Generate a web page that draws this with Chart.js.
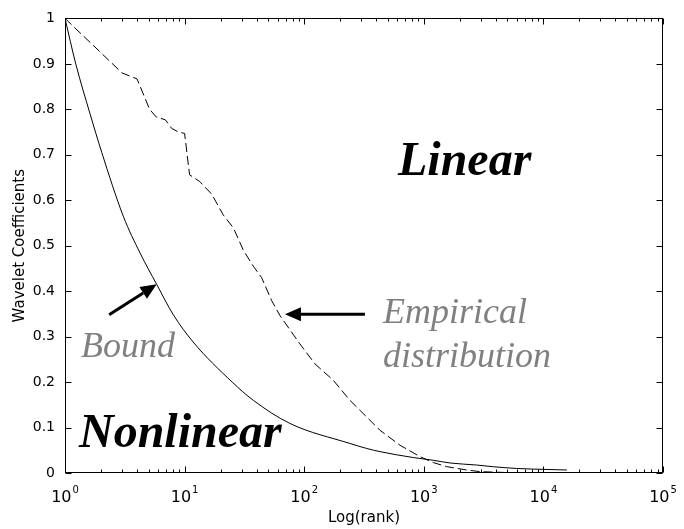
<!DOCTYPE html>
<html><head><meta charset="utf-8">
<script src="https://cdn.jsdelivr.net/npm/chart.js@4.4.0/dist/chart.umd.min.js"></script>
<style>html,body{margin:0;padding:0;background:#fff}canvas{display:block}</style>
</head><body>
<canvas id="c" width="684" height="529"></canvas>
<script>
// ---- data ----
const boundRank = [1, 1.23, 1.62, 2.03, 3.07, 4.24, 5.84, 8.05, 11.8, 25, 37.5, 76, 241, 333, 430, 817, 1200, 1660, 2770, 3810, 5980, 10000, 15700];
const boundCoef = [1, 0.9, 0.79, 0.705, 0.565, 0.484, 0.415, 0.348, 0.288, 0.2, 0.16, 0.109, 0.065, 0.054, 0.047, 0.034, 0.028, 0.022, 0.0175, 0.0138, 0.010, 0.008, 0.0066];
const empRank = [1, 3.0, 4.0, 5.1, 5.8, 6.9, 7.8, 8.9, 10, 11, 13.4, 16.9, 21, 25.6, 31, 37.5, 44, 53.5, 62.8, 92, 123, 175, 241, 430, 633, 930, 1200, 1550, 2290, 2950, 4930];
const empCoef = [1, 0.88, 0.867, 0.80, 0.783, 0.777, 0.758, 0.75, 0.747, 0.656, 0.641, 0.613, 0.568, 0.539, 0.49, 0.455, 0.43, 0.379, 0.346, 0.284, 0.24, 0.204, 0.16, 0.094, 0.061, 0.036, 0.023, 0.014, 0.0066, 0.003, 0.001];
const xTickPowers = [0, 1, 2, 3, 4, 5];
const yTickLabels = ['0', '0.1', '0.2', '0.3', '0.4', '0.5', '0.6', '0.7', '0.8', '0.9', '1'];
const xTitle = 'Log(rank)';
const yTitle = 'Wavelet Coefficients';

const toPts = (xs, ys) => xs.map((x, i) => ({x: x, y: ys[i]}));

function arrow(ctx, x1, y1, x2, y2) {
  const ang = Math.atan2(y2 - y1, x2 - x1);
  const hl = 16, hw = 7;
  const bx = x2 - hl * Math.cos(ang), by = y2 - hl * Math.sin(ang);
  ctx.beginPath();
  ctx.moveTo(x1, y1); ctx.lineTo(bx, by);
  ctx.lineWidth = 3; ctx.strokeStyle = '#000'; ctx.stroke();
  ctx.beginPath();
  ctx.moveTo(x2, y2);
  ctx.lineTo(bx + hw * Math.sin(ang), by - hw * Math.cos(ang));
  ctx.lineTo(bx - hw * Math.sin(ang), by + hw * Math.cos(ang));
  ctx.closePath(); ctx.fillStyle = '#000'; ctx.fill();
}

const overlay = {
  id: 'overlay',
  afterDraw(chart) {
    const ctx = chart.ctx, a = chart.chartArea, xs = chart.scales.x, ys = chart.scales.y;
    ctx.save();
    ctx.strokeStyle = '#000'; ctx.lineWidth = 1;
    const L = Math.round(a.left) + 0.5, R = Math.round(a.right) - 0.5;
    const T = Math.round(a.top) + 0.5, B = Math.round(a.bottom) - 0.5;
    ctx.strokeRect(L, T, R - L, B - T);
    ctx.beginPath();
    for (let p = xTickPowers[0]; p <= xTickPowers[xTickPowers.length - 1]; p++) {
      for (let k = 1; k <= 9; k++) {
        const v = k * Math.pow(10, p);
        if (v > Math.pow(10, xTickPowers[xTickPowers.length - 1])) break;
        const px = Math.round(xs.getPixelForValue(v)) + 0.5;
        const len = k === 1 ? 6 : 3;
        ctx.moveTo(px, B); ctx.lineTo(px, B - len);
        ctx.moveTo(px, T); ctx.lineTo(px, T + len);
      }
    }
    ys.ticks.forEach(t => {
      const py = Math.round(ys.getPixelForValue(t.value)) + 0.5;
      ctx.moveTo(L, py); ctx.lineTo(L + 6, py);
      ctx.moveTo(R, py); ctx.lineTo(R - 6, py);
    });
    ctx.stroke();

    // x tick labels with superscripts
    ctx.fillStyle = '#000'; ctx.textAlign = 'left'; ctx.textBaseline = 'alphabetic';
    xTickPowers.forEach(p => {
      const px = xs.getPixelForValue(Math.pow(10, p));
      ctx.font = '16px "DejaVu Sans"';
      const w1 = ctx.measureText('10').width;
      ctx.font = '10px "DejaVu Sans"';
      const w2 = ctx.measureText(String(p)).width;
      const start = px - (w1 + 1 + w2) / 2;
      ctx.font = '16px "DejaVu Sans"';
      ctx.fillText('10', start, a.bottom + 29);
      ctx.font = '10px "DejaVu Sans"';
      ctx.fillText(String(p), start + w1 + 1, a.bottom + 20);
    });

    // annotations
    ctx.font = 'italic bold 48px "Liberation Serif"';
    ctx.fillStyle = '#000';
    ctx.fillText('Linear', 398, 175);
    ctx.fillText('Nonlinear', 79, 447);
    ctx.font = 'italic 36px "Liberation Serif"';
    ctx.fillStyle = '#808080';
    ctx.fillText('Empirical', 383, 323);
    ctx.fillText('distribution', 383, 367);
    ctx.fillText('Bound', 81, 357);

    arrow(ctx, xs.getPixelForValue(2.34), ys.getPixelForValue(0.348), xs.getPixelForValue(5.84), ys.getPixelForValue(0.415));
    arrow(ctx, xs.getPixelForValue(322), ys.getPixelForValue(0.349), xs.getPixelForValue(69), ys.getPixelForValue(0.349));
    ctx.restore();
  }
};

new Chart(document.getElementById('c'), {
  type: 'line',
  data: {
    datasets: [
      {label: 'Bound', data: toPts(boundRank, boundCoef), borderColor: '#000', borderWidth: 1, pointRadius: 0, cubicInterpolationMode: 'monotone', fill: false},
      {label: 'Empirical distribution', data: toPts(empRank, empCoef), borderColor: '#000', borderWidth: 1, borderDash: [9, 4], pointRadius: 0, tension: 0, fill: false}
    ]
  },
  options: {
    responsive: false, animation: false, devicePixelRatio: 1,
    layout: {padding: {top: 16, right: 21, left: 0, bottom: 0}},
    plugins: {legend: {display: false}, tooltip: {enabled: false}},
    scales: {
      x: {
        type: 'logarithmic', min: 1, max: 100000,
        grid: {display: false}, border: {display: false},
        ticks: {display: false},
        title: {display: true, text: xTitle, color: '#000', font: {family: 'DejaVu Sans', size: 15}, padding: {top: 0, bottom: 2}},
        afterFit: s => { s.height = 56; }
      },
      y: {
        type: 'linear', min: 0, max: 1,
        grid: {display: false, drawTicks: false}, border: {display: false},
        ticks: {stepSize: 0.1, autoSkip: false, padding: 10, color: '#000', font: {family: 'DejaVu Sans', size: 14}, callback: (v, i) => yTickLabels[i]},
        title: {display: true, text: yTitle, color: '#000', font: {family: 'DejaVu Sans', size: 15}, padding: {top: 11, bottom: 0}},
        afterFit: s => { s.width = 65; }
      }
    }
  },
  plugins: [overlay]
});
</script>
</body></html>
